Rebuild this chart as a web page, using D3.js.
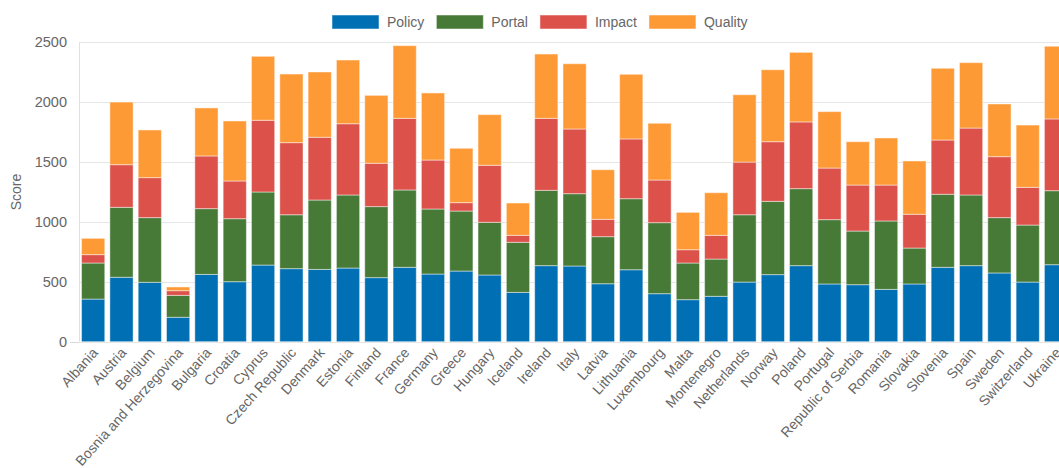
<!DOCTYPE html>
<html>
<head>
<meta charset="utf-8">
<script src="https://cdn.jsdelivr.net/npm/d3@7"></script>
<style>
  body { margin: 0; background: #fff; }
  text { font-family: "Liberation Sans", Arial, sans-serif; fill: #666; }
</style>
</head>
<body>
<svg id="chart"></svg>
<script>
const countries = ["Albania", "Austria", "Belgium", "Bosnia and Herzegovina", "Bulgaria", "Croatia",
  "Cyprus", "Czech Republic", "Denmark", "Estonia", "Finland", "France", "Germany", "Greece",
  "Hungary", "Iceland", "Ireland", "Italy", "Latvia", "Lithuania", "Luxembourg", "Malta",
  "Montenegro", "Netherlands", "Norway", "Poland", "Portugal", "Republic of Serbia", "Romania",
  "Slovakia", "Slovenia", "Spain", "Sweden", "Switzerland", "Ukraine"];

const policy  = [356, 538, 496, 204, 562, 501, 640, 610, 604, 615, 535, 621, 565, 590, 557, 412, 635, 632,
  484, 601, 401, 351, 379, 498, 560, 635, 482, 476, 437, 482, 621, 635, 574, 498, 643];
const portal  = [301, 584, 540, 183, 549, 526, 610, 450, 579, 610, 593, 646, 543, 501, 440, 418, 629, 604,
  393, 593, 593, 306, 311, 562, 612, 643, 537, 448, 571, 300, 610, 590, 462, 476, 618];
const impact  = [70, 356, 334, 39, 440, 315, 599, 602, 524, 595, 362, 598, 409, 70, 476, 58, 601, 540,
  145, 499, 356, 111, 198, 440, 498, 557, 431, 384, 300, 282, 453, 559, 509, 315, 599];
const quality = [136, 523, 398, 31, 401, 501, 534, 573, 545, 532, 567, 607, 560, 454, 423, 270, 537, 545,
  414, 540, 474, 312, 356, 562, 601, 581, 471, 362, 393, 445, 599, 546, 440, 520, 607];

const seriesNames = ["Policy", "Portal", "Impact", "Quality"];
const seriesColors = ["#006fb4", "#477a37", "#dc524b", "#fe9a36"];
const yTicks = [0, 500, 1000, 1500, 2000, 2500];

const width = 1059, height = 468;
const margin = {left: 79, top: 42, bottom: 127};

const svg = d3.select("#chart")
  .attr("width", width)
  .attr("height", height);

const rows = countries.map(function (c, i) {
  return {country: c, Policy: policy[i], Portal: portal[i], Impact: impact[i], Quality: quality[i]};
});
const stacked = d3.stack().keys(seriesNames)(rows);

// x band runs past the right edge, like the original (Ukraine is cut)
const x = d3.scaleBand()
  .domain(countries)
  .range([margin.left, margin.left + countries.length * 28.32])
  .paddingInner(0.18)
  .paddingOuter(0.09);

const y = d3.scaleLinear()
  .domain([0, 2500])
  .range([height - margin.bottom + 0.7, margin.top + 0.3]);

// grid
svg.append("g")
  .selectAll("line")
  .data(yTicks)
  .enter()
  .append("line")
  .attr("x1", margin.left)
  .attr("x2", width)
  .attr("y1", d => Math.round(y(d)) + 0.5)
  .attr("y2", d => Math.round(y(d)) + 0.5)
  .attr("stroke", "#e6e6e6");

svg.append("line")
  .attr("x1", margin.left - 9).attr("x2", margin.left)
  .attr("y1", Math.round(y(0)) + 0.5).attr("y2", Math.round(y(0)) + 0.5)
  .attr("stroke", "#d9d9d9");

svg.append("line")
  .attr("x1", margin.left + 0.5).attr("x2", margin.left + 0.5)
  .attr("y1", y(2500)).attr("y2", y(0))
  .attr("stroke", "#e0e0e0");

// y tick labels
const yAxis = d3.axisLeft(y).tickValues(yTicks).tickFormat(d3.format("d")).tickSize(0).tickPadding(12);
svg.append("g")
  .attr("transform", `translate(${margin.left},0)`)
  .call(yAxis)
  .call(g => g.select(".domain").remove())
  .selectAll("text")
  .attr("font-size", "14.5px")
  .attr("fill", "#666")
  .attr("font-family", "Liberation Sans, Arial, sans-serif");

svg.append("text")
  .attr("transform", `translate(21, ${(y(0) + y(2500)) / 2}) rotate(-90)`)
  .attr("text-anchor", "middle")
  .attr("font-size", "14px")
  .text("Score");

// bars
svg.append("g")
  .selectAll("g")
  .data(stacked)
  .enter()
  .append("g")
  .attr("fill", (d, i) => seriesColors[i])
  .selectAll("rect")
  .data(d => d)
  .enter()
  .append("rect")
  .attr("x", d => x(d.data.country))
  .attr("width", x.bandwidth())
  .attr("y", d => y(d[1]))
  .attr("height", d => y(d[0]) - y(d[1]))
  .attr("stroke", "rgba(255,255,255,0.45)")
  .attr("stroke-width", 1);

// x labels, rotated
svg.append("g")
  .selectAll("text")
  .data(countries)
  .enter()
  .append("text")
  .attr("transform", d => `translate(${x(d) + x.bandwidth() / 2 + 2}, 350) rotate(-48)`)
  .attr("text-anchor", "end")
  .attr("dy", "0.35em")
  .attr("font-size", "14px")
  .text(d => d);

// legend
const legend = svg.append("g").attr("transform", "translate(332, 15)");
var lx = 0;
seriesNames.forEach(function (name, i) {
  const item = legend.append("g").attr("transform", `translate(${lx},0)`);
  item.append("rect")
    .attr("width", 47)
    .attr("height", 14)
    .attr("fill", seriesColors[i])
    .attr("stroke", "rgba(255,255,255,0.5)");
  const t = item.append("text")
    .attr("x", 55)
    .attr("y", 12)
    .attr("font-size", "14px")
    .text(name);
  lx += 55 + t.node().getComputedTextLength() + 12;
});
</script>
</body>
</html>
